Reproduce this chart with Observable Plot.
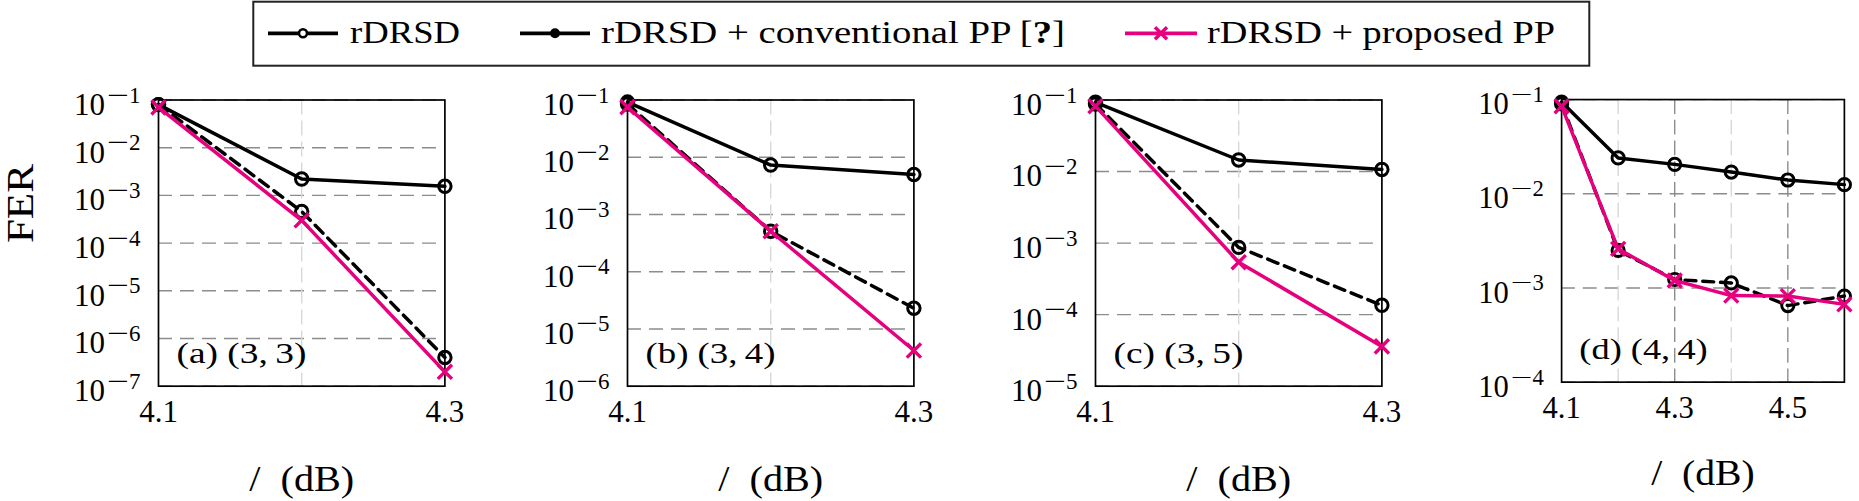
<!DOCTYPE html>
<html><head><meta charset="utf-8">
<script src="https://cdn.jsdelivr.net/npm/d3@7"></script>
<script src="https://cdn.jsdelivr.net/npm/@observablehq/plot@0.6"></script>
<style>
body{margin:0;background:#fff;}
#wrap{position:relative;width:1859px;height:501px;overflow:hidden;background:#fff;}
#wrap svg, #wrap svg text, #wrap svg tspan{font-family:"Liberation Serif","Times New Roman",serif !important;}
.panel{position:absolute;top:66px;}
</style></head><body><div id="wrap"></div>
<script>
// ---------- data ----------
const seriesNames = ["rDRSD", "rDRSD + conventional PP [?]", "rDRSD + proposed PP"];
const panelLabels = ["(a) (3,\u20093)", "(b) (3,\u20094)", "(c) (3,\u20095)", "(d) (4,\u20094)"];
const xAxisLabel = "/\u2002(dB)";
const yAxisLabel = "FER";

const snrABC = [4.1, 4.2, 4.3];
const snrD = [4.1, 4.2, 4.3, 4.4, 4.5, 4.6];

const rdrsdA = [0.080, 2.2e-3, 1.55e-3];
const convA  = [0.080, 4.6e-4, 4.0e-7];
const propA  = [0.070, 3.0e-4, 2.0e-7];

const rdrsdB = [0.092, 7.3e-3, 5.0e-3];
const convB  = [0.085, 5.1e-4, 2.3e-5];
const propB  = [0.075, 5.1e-4, 4.2e-6];

const rdrsdC = [0.093, 1.45e-2, 1.07e-2];
const convC  = [0.088, 8.7e-4, 1.35e-4];
const propC  = [0.082, 5.4e-4, 3.6e-5];

const rdrsdD = [0.094, 2.4e-2, 2.05e-2, 1.7e-2, 1.4e-2, 1.25e-2];
const convD  = [0.090, 2.5e-3, 1.23e-3, 1.13e-3, 6.5e-4, 8.2e-4];
const propD  = [0.085, 2.6e-3, 1.2e-3, 8.3e-4, 8.2e-4, 6.7e-4];

const xTicksABC = [4.1, 4.3];
const xTicksD = [4.1, 4.3, 4.5];
const xMinorABC = [4.2];
const xMinorD = [4.2, 4.4];
const xMajorInnerABC = [];
const xMajorInnerD = [4.3, 4.5];
const yExpA = [-7, -6, -5, -4, -3, -2, -1];
const yExpB = [-6, -5, -4, -3, -2, -1];
const yExpC = [-5, -4, -3, -2, -1];
const yExpD = [-4, -3, -2, -1];

// ---------- layout ----------
const frameLefts = [158.2, 627, 1095.3, 1563.3];
const innerW = 286.4, innerH = 286.2;
const mL = 150, mR = 15, mT = 33.5, mB = 115.3;
const pink = "#e6007e";

const panels = [
  {x: snrABC, r: rdrsdA, c: convA, p: propA, xd: [4.1, 4.3], xt: xTicksABC, xm: xMinorABC, xM: xMajorInnerABC, ye: yExpA},
  {x: snrABC, r: rdrsdB, c: convB, p: propB, xd: [4.1, 4.3], xt: xTicksABC, xm: xMinorABC, xM: xMajorInnerABC, ye: yExpB},
  {x: snrABC, r: rdrsdC, c: convC, p: propC, xd: [4.1, 4.3], xt: xTicksABC, xm: xMinorABC, xM: xMajorInnerABC, ye: yExpC},
  {x: snrD,   r: rdrsdD, c: convD, p: propD, xd: [4.1, 4.6], xt: xTicksD,   xm: xMinorD,   xM: xMajorInnerD,   ye: yExpD}
];

const wrap = document.getElementById("wrap");
const NS = "http://www.w3.org/2000/svg";

function fixTexts(svg, lengths) {
  svg.querySelectorAll("text").forEach(t => {
    const s = t.textContent;
    if (s.includes("^")) {
      const [base, exp] = s.split("^");
      t.textContent = "";
      const a = document.createElementNS(NS, "tspan"); a.textContent = base;
      const m = document.createElementNS(NS, "tspan"); m.textContent = "\u2212";
      m.setAttribute("dy", "-12.4"); m.setAttribute("dx", "2");
      m.setAttribute("font-size", "23");
      m.setAttribute("textLength", "22"); m.setAttribute("lengthAdjust", "spacingAndGlyphs");
      const d = document.createElementNS(NS, "tspan"); d.textContent = exp.replace("-", "");
      d.setAttribute("font-size", "23");
      t.append(a, m, d);
    } else if (lengths[s] !== undefined) {
      t.setAttribute("textLength", lengths[s]);
      t.setAttribute("lengthAdjust", "spacingAndGlyphs");
    }
  });
}

panels.forEach((P, i) => {
  const rowsR = P.x.map((x, k) => ({x, y: P.r[k], s: seriesNames[0]}));
  const rowsC = P.x.map((x, k) => ({x, y: P.c[k], s: seriesNames[1]}));
  const rowsP = P.x.map((x, k) => ({x, y: P.p[k], s: seriesNames[2]}));
  const yTicks = P.ye.map(e => Math.pow(10, e));
  const marks = [
    Plot.ruleY(yTicks, {stroke: "#8c8c8c", strokeWidth: 1.4, strokeDasharray: "14,8"}),
    Plot.ruleX(P.xm, {stroke: "#d8d8d8", strokeWidth: 1.4, strokeDasharray: "15,6"}),
    Plot.ruleX(P.xM, {stroke: "#8c8c8c", strokeWidth: 1.4, strokeDasharray: "15,6"}),
    Plot.frame({stroke: "black", strokeWidth: 1.7}),
    Plot.line(rowsR, {x: "x", y: "y", stroke: "black", strokeWidth: 3.5}),
    Plot.dot(rowsR, {x: "x", y: "y", r: 6.2, stroke: "black", strokeWidth: 3, fill: "none"}),
    Plot.line(rowsC, {x: "x", y: "y", stroke: "black", strokeWidth: 3.5, strokeDasharray: "11,7"}),
    Plot.dot(rowsC, {x: "x", y: "y", r: 6.2, stroke: "black", strokeWidth: 3, fill: "none"}),
    Plot.line(rowsP, {x: "x", y: "y", stroke: pink, strokeWidth: 3.5}),
    Plot.dot(rowsP, {x: "x", y: "y", r: 6.5, symbol: "times", stroke: pink, strokeWidth: 3.4}),
    Plot.axisX({ticks: P.xt, tickFormat: d => d.toFixed(1), tickSize: 0, tickPadding: 14, label: null, fontSize: 31}),
    Plot.axisY({ticks: yTicks, tickFormat: d => "10^" + Math.round(Math.log10(d)), tickSize: 0, tickPadding: 18, dy: 5, label: null, fontSize: 31}),
    Plot.text([panelLabels[i]], {frameAnchor: "bottom-left", dx: 18, dy: -23.5, lineAnchor: "bottom", textAnchor: "start", fontSize: 30, fill: "black"}),
    Plot.text([xAxisLabel], {frameAnchor: "bottom", dy: 104.5, lineAnchor: "bottom", fontSize: 36, fill: "black"})
  ];
  if (i === 0) marks.push(Plot.text([yAxisLabel], {frameAnchor: "left", dx: -137, rotate: -90, fontSize: 37, fill: "black"}));
  const svg = Plot.plot({
    width: mL + innerW + mR,
    height: mT + innerH + mB,
    marginLeft: mL, marginRight: mR, marginTop: mT, marginBottom: mB,
    x: {domain: P.xd},
    y: {type: "log", domain: [yTicks[0], yTicks[yTicks.length - 1]]},
    style: {fontFamily: "Liberation Serif", fontSize: "31px", color: "black", background: "transparent", overflow: "visible"},
    marks
  });
  const lengths = {};
  lengths[panelLabels[i]] = 130;
  lengths[xAxisLabel] = 105;
  lengths[yAxisLabel] = 79;
  fixTexts(svg, lengths);
  const div = document.createElement("div");
  div.className = "panel";
  div.style.left = (frameLefts[i] - mL) + "px";
  div.appendChild(svg);
  wrap.appendChild(div);
});

// ---------- legend ----------
const lg = d3.select(wrap).append("svg")
  .attr("width", 1859).attr("height", 70)
  .style("position", "absolute").style("left", "0px").style("top", "0px");
lg.append("rect").attr("x", 253.3).attr("y", 1.7).attr("width", 1336).attr("height", 64)
  .attr("fill", "white").attr("stroke", "#222").attr("stroke-width", 2);
const legLineX0 = [268, 520, 1125], legLineX1 = [338, 590, 1197];
const legTextX = [350, 601, 1207], legTextLen = [110, 464, 348];
const ly = 33.3;
seriesNames.forEach((name, k) => {
  const col = k === 2 ? pink : "black";
  lg.append("line").attr("x1", legLineX0[k]).attr("x2", legLineX1[k]).attr("y1", ly).attr("y2", ly)
    .attr("stroke", col).attr("stroke-width", 3.8);
  const cx = (legLineX0[k] + legLineX1[k]) / 2;
  if (k === 0) {
    lg.append("circle").attr("cx", cx).attr("cy", ly).attr("r", 4).attr("fill", "white").attr("stroke", "black").attr("stroke-width", 2.6);
  } else if (k === 1) {
    lg.append("circle").attr("cx", cx).attr("cy", ly).attr("r", 5).attr("fill", "black");
  } else {
    lg.append("path").attr("d", `M${cx-6},${ly-6}L${cx+6},${ly+6}M${cx-6},${ly+6}L${cx+6},${ly-6}`)
      .attr("stroke", pink).attr("stroke-width", 3.4);
  }
  const t = lg.append("text").attr("x", legTextX[k]).attr("y", 42.7)
    .attr("font-size", 31).attr("fill", "black")
    .attr("textLength", legTextLen[k]).attr("lengthAdjust", "spacingAndGlyphs");
  if (k === 1) {
    t.append("tspan").text("rDRSD + conventional PP [");
    t.append("tspan").attr("font-weight", "bold").text("?");
    t.append("tspan").text("]");
  } else {
    t.text(name);
  }
});
</script>
</body></html>
